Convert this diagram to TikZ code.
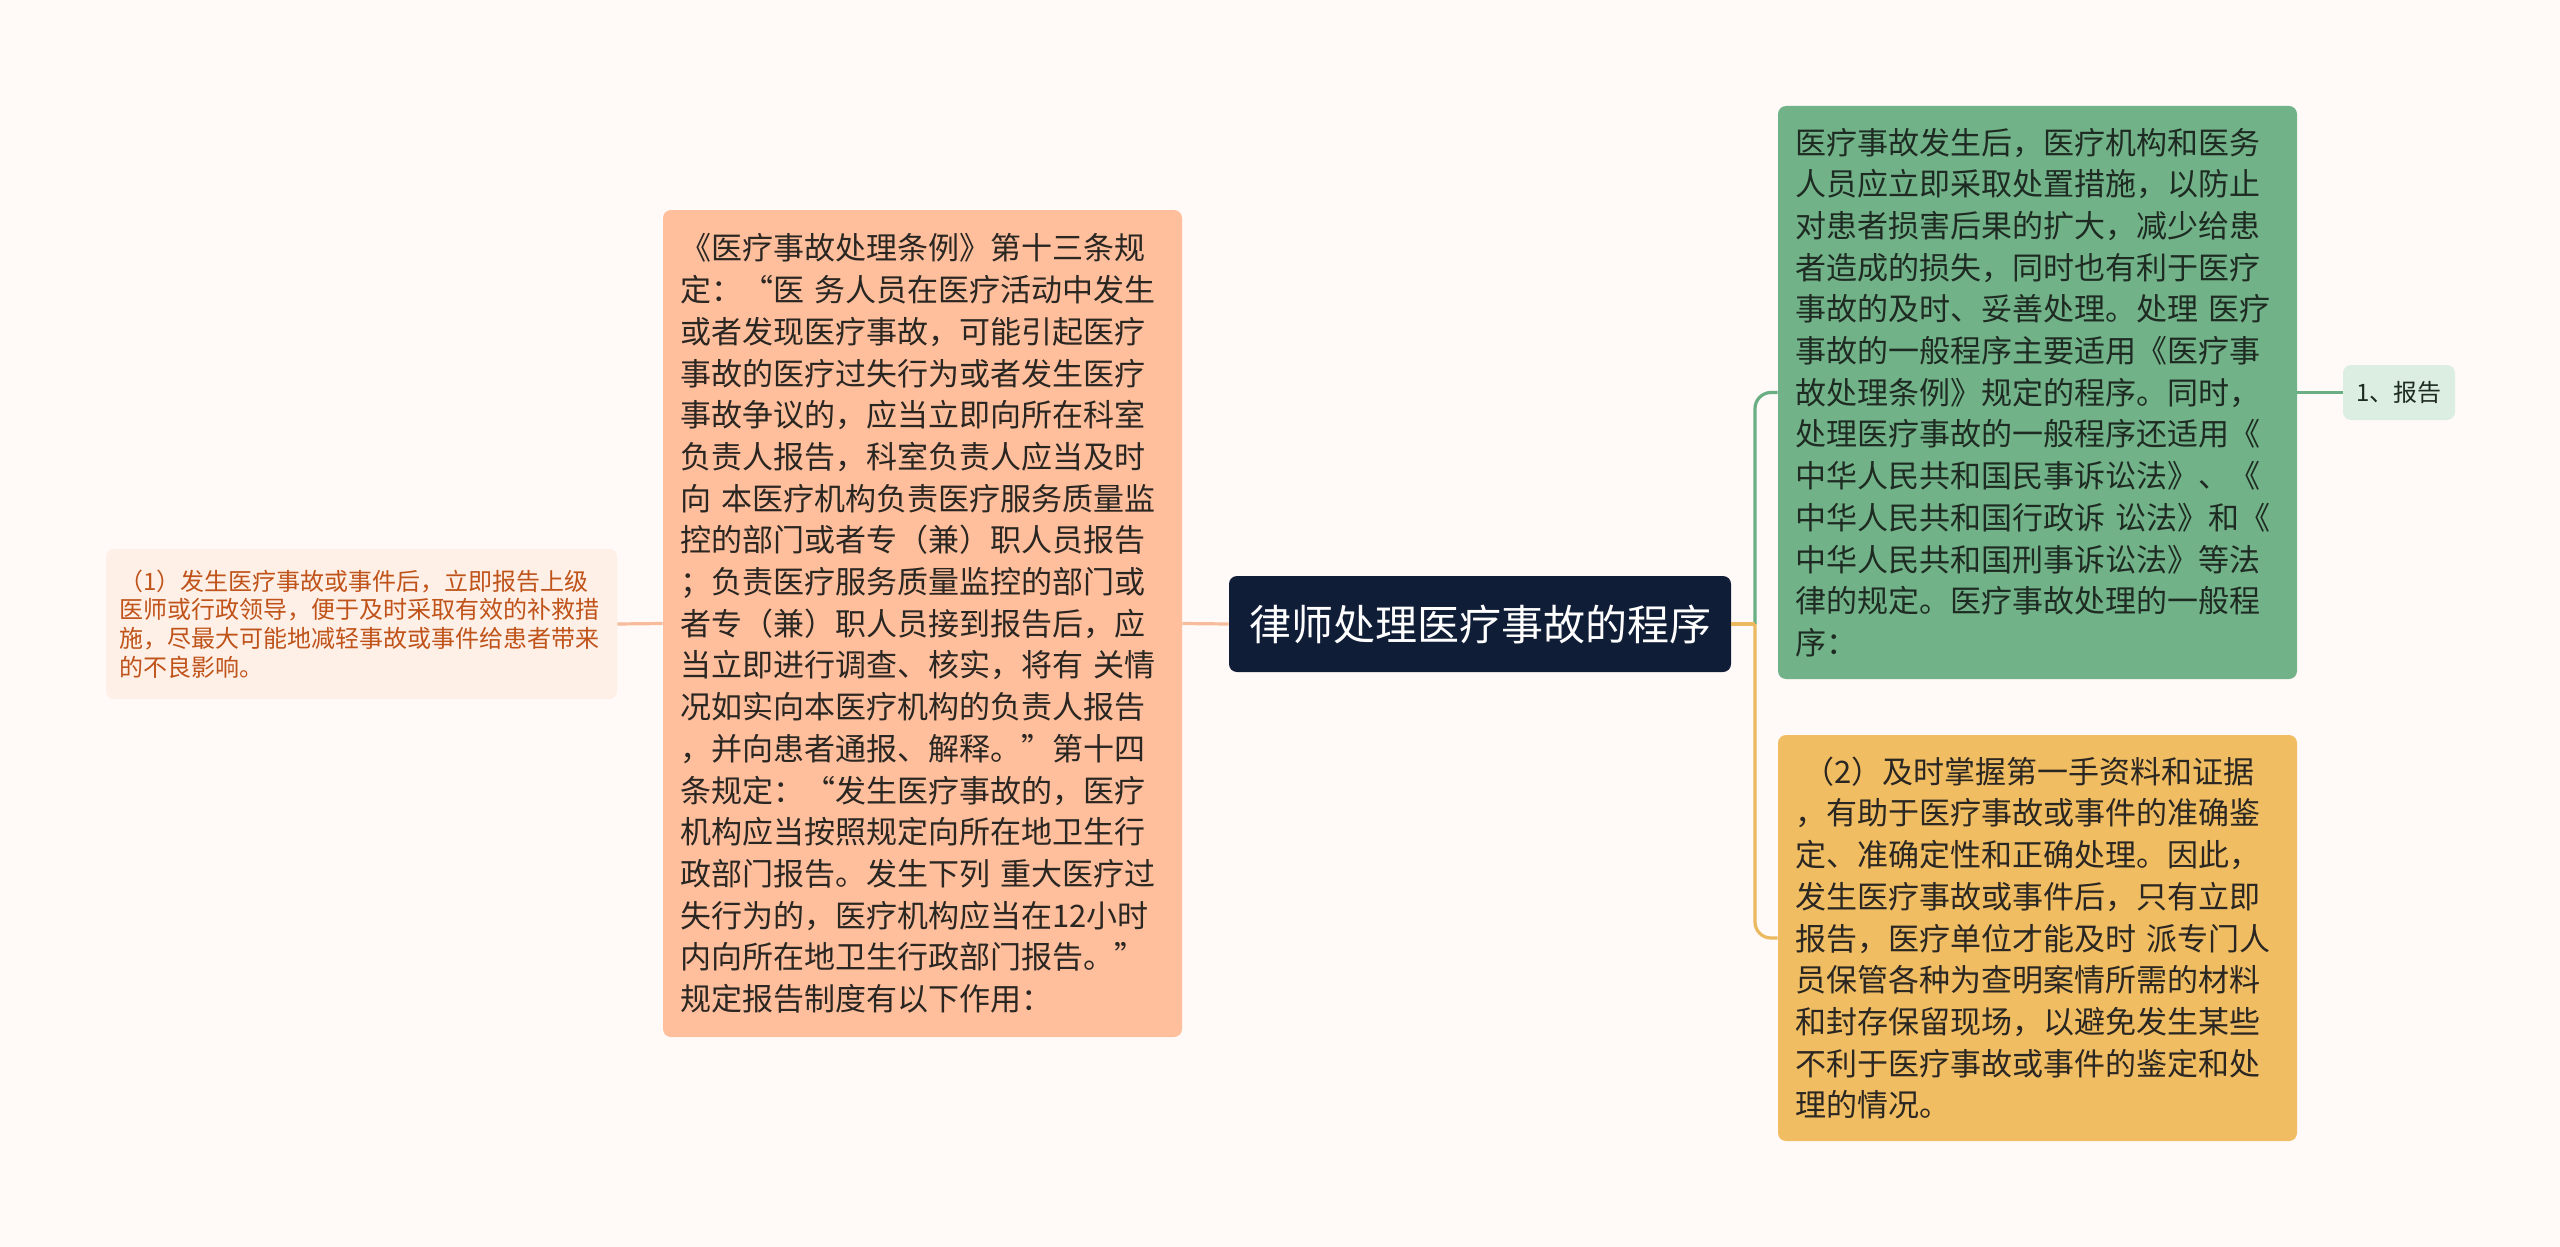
\documentclass[tikz,border=0pt]{standalone}
\usepackage{fontspec}
\newfontfamily\cjk{Noto Sans CJK SC}
\definecolor{bgc}{HTML}{FFFAF8}
\definecolor{navy}{HTML}{0F1D36}
\definecolor{peachbox}{HTML}{FFBF9D}
\definecolor{peachlight}{HTML}{FEF0E6}
\definecolor{peachline}{HTML}{F7BC9C}
\definecolor{peachtext}{HTML}{C0531A}
\definecolor{greenbox}{HTML}{72B288}
\definecolor{greenlight}{HTML}{DCEEE2}
\definecolor{greenline}{HTML}{6AAE83}
\definecolor{yellowbox}{HTML}{F0BD63}
\definecolor{yellowline}{HTML}{EBB95F}
\definecolor{darktext}{HTML}{2A2622}
\definecolor{greentext}{HTML}{1E2B22}
\begin{document}
\begin{tikzpicture}[x=0.5pt,y=-0.5pt,
  bigbox/.style={rounded corners=4pt, inner xsep=8.5pt, inner ysep=0pt,
    align=left, text width=242.5pt, minimum width=259.5pt,
    font=\cjk\fontsize{15.5pt}{20.85pt}\selectfont},
  smallbox/.style={rounded corners=4pt, inner xsep=6.5pt, inner ysep=0pt,
    align=left, text width=242.5pt, minimum width=255.5pt,
    font=\cjk\fontsize{12pt}{14.3pt}\selectfont},
  conn/.style={line width=1.6pt},
  ]
\fill[bgc] (0,0) rectangle (2560,1247);
\useasboundingbox (0,0) rectangle (2560,1247);

\node[fill=navy, rounded corners=4pt, text=white, minimum width=251pt,
  minimum height=48pt, inner sep=0pt,
  font=\cjk\fontsize{21pt}{25pt}\selectfont] (root) at (1480,624) {律师处理医疗事故的程序};

\node[bigbox, fill=peachbox, text=darktext, minimum height=413.5pt] (law) at (922.5,623.5) {《医疗事故处理条例》第十三条规\\
定：“医~务人员在医疗活动中发生\\
或者发现医疗事故，可能引起医疗\\
事故的医疗过失行为或者发生医疗\\
事故争议的，应当立即向所在科室\\
负责人报告，科室负责人应当及时\\
向~本医疗机构负责医疗服务质量监\\
控的部门或者专（兼）职人员报告\\
；负责医疗服务质量监控的部门或\\
者专（兼）职人员接到报告后，应\\
当立即进行调查、核实，将有~关情\\
况如实向本医疗机构的负责人报告\\
，并向患者通报、解释。”第十四\\
条规定：“发生医疗事故的，医疗\\
机构应当按照规定向所在地卫生行\\
政部门报告。发生下列~重大医疗过\\
失行为的，医疗机构应当在12小时\\
内向所在地卫生行政部门报告。”\\
规定报告制度有以下作用：};

\node[smallbox, fill=peachlight, text=peachtext, minimum height=75pt] (first) at (361.5,624) {（1）发生医疗事故或事件后，立即报告上级\\
医师或行政领导，便于及时采取有效的补救措\\
施，尽最大可能地减轻事故或事件给患者带来\\
的不良影响。};

\node[bigbox, fill=greenbox, text=greentext, minimum height=286.5pt] (proc) at (2037.5,392.5) {医疗事故发生后，医疗机构和医务\\
人员应立即采取处置措施，以防止\\
对患者损害后果的扩大，减少给患\\
者造成的损失，同时也有利于医疗\\
事故的及时、妥善处理。处理~医疗\\
事故的一般程序主要适用《医疗事\\
故处理条例》规定的程序。同时，\\
处理医疗事故的一般程序还适用《\\
中华人民共和国民事诉讼法》、《\\
中华人民共和国行政诉~讼法》和《\\
中华人民共和国刑事诉讼法》等法\\
律的规定。医疗事故处理的一般程\\
序：};

\node[bigbox, fill=yellowbox, text=darktext, minimum height=203pt] (second) at (2037.5,938) {\hspace*{4pt}（2）及时掌握第一手资料和证据\\
，有助于医疗事故或事件的准确鉴\\
定、准确定性和正确处理。因此，\\
发生医疗事故或事件后，只有立即\\
报告，医疗单位才能及时~派专门人\\
员保管各种为查明案情所需的材料\\
和封存保留现场，以避免发生某些\\
不利于医疗事故或事件的鉴定和处\\
理的情况。};

\node[fill=greenlight, rounded corners=4pt, text=greentext, minimum width=56pt,
  minimum height=27.5pt, inner sep=0pt,
  font=\cjk\fontsize{12pt}{14pt}\selectfont] (report) at (2399,392.5) {1、报告};

\coordinate (trunk) at (1755,624);

\draw[conn, peachline] (first.east) -- (law.west);
\draw[conn, peachline] (law.east) -- (root.west);
\draw[conn, greenline, rounded corners=8pt] (trunk) |- (proc.west);
\draw[conn, yellowline, rounded corners=8pt] (trunk) |- (second.west);
\draw[conn, yellowline] (root.east) -- (trunk);
\draw[conn, greenline] (proc.east) -- (report.west);
\end{tikzpicture}
\end{document}
